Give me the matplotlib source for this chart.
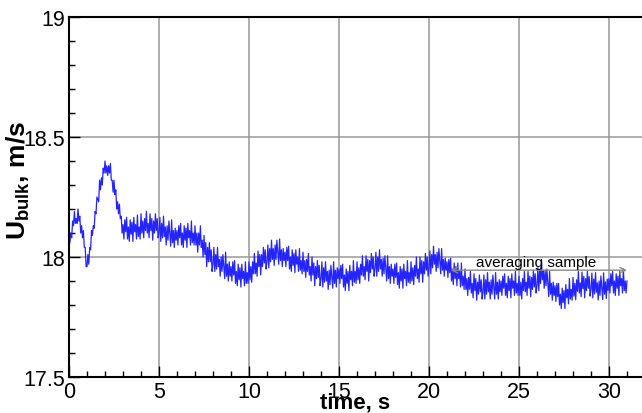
import numpy as np
import matplotlib
matplotlib.use("Agg")
import matplotlib.pyplot as plt

plt.rcParams["font.family"] = ["Liberation Sans", "DejaVu Sans"]
plt.rcParams["mathtext.fontset"] = "custom"
plt.rcParams["mathtext.rm"] = "Liberation Sans"
plt.rcParams["mathtext.bf"] = "Liberation Sans:bold"

# sampling interval of the bulk velocity record, s
dt = 0.05

# bulk velocity, m/s (one row per second)
u_bulk = [
    18.09, 18.06, 18.10, 18.08, 18.15, 18.13, 18.19, 18.14, 18.16, 18.14, 18.20, 18.15, 18.17, 18.10, 18.13, 18.08, 18.11, 18.04, 18.04, 17.96,
    17.96, 18.01, 17.97, 18.04, 18.03, 18.11, 18.09, 18.13, 18.12, 18.19, 18.18, 18.25, 18.24, 18.23, 18.32, 18.28, 18.33, 18.30, 18.37, 18.35,
    18.40, 18.35, 18.38, 18.34, 18.38, 18.35, 18.39, 18.32, 18.32, 18.27, 18.32, 18.26, 18.28, 18.20, 18.23, 18.18, 18.22, 18.16, 18.17, 18.10,
    18.135, 18.075, 18.155, 18.105, 18.165, 18.075, 18.125, 18.065, 18.155, 18.095, 18.145, 18.065, 18.165, 18.105, 18.135, 18.075, 18.175, 18.085, 18.125, 18.075,
    18.18, 18.10, 18.15, 18.08, 18.16, 18.11, 18.19, 18.10, 18.14, 18.08, 18.18, 18.11, 18.16, 18.07, 18.15, 18.10, 18.18, 18.11, 18.16, 18.08,
    18.10, 18.165, 18.065, 18.14, 18.08, 18.17, 18.085, 18.125, 18.05, 18.13, 18.07, 18.15, 18.095, 18.045, 18.155, 18.06, 18.11, 18.04, 18.12, 18.07,
    18.11, 18.05, 18.13, 18.08, 18.14, 18.05, 18.10, 18.04, 18.13, 18.07, 18.12, 18.04, 18.14, 18.08, 18.11, 18.05, 18.15, 18.06, 18.10, 18.05,
    18.13, 18.05, 18.10, 18.02, 18.10, 18.05, 18.13, 18.04, 18.07, 18.00, 18.09, 18.01, 18.06, 17.96, 18.04, 17.98, 18.06, 17.98, 18.03, 17.94,
    17.97, 18.04, 17.94, 18.01, 17.95, 18.04, 17.96, 17.99, 17.92, 18.00, 17.94, 18.01, 17.96, 17.91, 18.02, 17.92, 17.97, 17.90, 17.98, 17.92,
    17.96, 17.90, 17.98, 17.925, 17.985, 17.89, 17.94, 17.88, 17.97, 17.905, 17.955, 17.875, 17.97, 17.91, 17.94, 17.88, 17.98, 17.89, 17.935, 17.89,
    17.98, 17.905, 17.96, 17.895, 17.98, 17.93, 18.015, 17.93, 17.975, 17.92, 18.025, 17.96, 18.01, 17.925, 18.01, 17.96, 18.04, 17.975, 18.03, 17.95,
    17.98, 18.05, 17.955, 18.035, 17.98, 18.07, 17.99, 18.035, 17.965, 18.05, 17.99, 18.07, 18.02, 17.97, 18.075, 17.985, 18.03, 17.96, 18.035, 17.985,
    18.02, 17.96, 18.04, 17.985, 18.045, 17.95, 18.00, 17.94, 18.03, 17.965, 18.015, 17.935, 18.03, 17.97, 18.00, 17.94, 18.035, 17.945, 17.985, 17.93,
    18.02, 17.94, 17.985, 17.915, 17.99, 17.94, 18.015, 17.925, 17.96, 17.90, 18.00, 17.925, 17.975, 17.88, 17.96, 17.91, 17.985, 17.915, 17.965, 17.88,
    17.91, 17.98, 17.875, 17.955, 17.895, 17.98, 17.90, 17.94, 17.865, 17.945, 17.885, 17.965, 17.915, 17.87, 17.98, 17.89, 17.945, 17.875, 17.955, 17.91,
    17.95, 17.89, 17.965, 17.91, 17.97, 17.875, 17.925, 17.86, 17.95, 17.89, 17.94, 17.86, 17.965, 17.905, 17.94, 17.88, 17.985, 17.895, 17.94, 17.89,
    17.98, 17.905, 17.955, 17.89, 17.97, 17.925, 18.005, 17.92, 17.96, 17.905, 18.005, 17.94, 17.99, 17.90, 17.985, 17.935, 18.015, 17.95, 18.00, 17.92,
    17.95, 18.02, 17.92, 18.00, 17.94, 18.03, 17.95, 17.99, 17.92, 17.995, 17.93, 18.005, 17.95, 17.90, 18.005, 17.91, 17.96, 17.89, 17.97, 17.92,
    17.95, 17.89, 17.97, 17.915, 17.975, 17.885, 17.935, 17.87, 17.96, 17.90, 17.95, 17.87, 17.97, 17.91, 17.94, 17.88, 17.985, 17.895, 17.935, 17.89,
    17.98, 17.90, 17.955, 17.885, 17.965, 17.92, 18.00, 17.91, 17.95, 17.895, 18.00, 17.93, 17.985, 17.895, 17.98, 17.93, 18.015, 17.945, 18.00, 17.92,
    17.955, 18.025, 17.93, 18.01, 17.955, 18.045, 17.97, 18.01, 17.94, 18.02, 17.955, 18.035, 17.98, 17.93, 18.035, 17.945, 17.99, 17.92, 17.995, 17.945,
    17.98, 17.915, 17.99, 17.935, 17.995, 17.90, 17.95, 17.885, 17.975, 17.91, 17.96, 17.88, 17.975, 17.91, 17.94, 17.875, 17.975, 17.88, 17.92, 17.865,
    17.95, 17.865, 17.91, 17.84, 17.915, 17.865, 17.94, 17.85, 17.89, 17.83, 17.93, 17.86, 17.91, 17.82, 17.895, 17.845, 17.925, 17.855, 17.905, 17.825,
    17.855, 17.925, 17.825, 17.905, 17.845, 17.935, 17.855, 17.895, 17.825, 17.905, 17.845, 17.925, 17.875, 17.825, 17.935, 17.845, 17.895, 17.825, 17.905, 17.855,
    17.90, 17.84, 17.92, 17.87, 17.93, 17.84, 17.89, 17.83, 17.92, 17.86, 17.91, 17.83, 17.93, 17.87, 17.90, 17.84, 17.94, 17.85, 17.89, 17.84,
    17.92, 17.84, 17.895, 17.825, 17.91, 17.86, 17.94, 17.855, 17.895, 17.84, 17.94, 17.87, 17.92, 17.835, 17.915, 17.865, 17.945, 17.875, 17.93, 17.85,
    17.88, 17.955, 17.86, 17.945, 17.89, 17.98, 17.905, 17.945, 17.87, 17.945, 17.88, 17.95, 17.89, 17.835, 17.94, 17.845, 17.89, 17.82, 17.895, 17.84,
    17.88, 17.815, 17.89, 17.835, 17.89, 17.80, 17.845, 17.785, 17.87, 17.81, 17.86, 17.785, 17.885, 17.83, 17.865, 17.805, 17.91, 17.825, 17.865, 17.82,
    17.915, 17.837, 17.89, 17.822, 17.905, 17.857, 17.94, 17.85, 17.892, 17.835, 17.937, 17.868, 17.919, 17.83, 17.91, 17.86, 17.94, 17.87, 17.918, 17.837,
    17.865, 17.933, 17.83, 17.908, 17.846, 17.935, 17.853, 17.892, 17.821, 17.90, 17.84, 17.921, 17.872, 17.823, 17.934, 17.845, 17.896, 17.827, 17.908, 17.86,
    17.91, 17.85, 17.93, 17.88, 17.94, 17.85, 17.90, 17.84, 17.93, 17.87, 17.92, 17.84, 17.94, 17.88, 17.91, 17.85, 17.95, 17.86, 17.90, 17.85,
    17.90,
]
time = np.arange(len(u_bulk)) * dt

# averaging window shown by the arrow
avg_start, avg_end, avg_level = 21.2, 31.0, 17.945

x_ticks = [0, 5, 10, 15, 20, 25, 30]
y_ticks = [17.5, 18, 18.5, 19]
y_ticklabels = ["17.5", "18", "18.5", "19"]

fig = plt.figure(figsize=(6.42, 4.14), dpi=100)
ax = fig.add_axes([69 / 642, 36 / 414, 1 - 69 / 642, 360 / 414])

ax.plot(time, u_bulk, color="#2424ff", lw=0.9)

ax.annotate("", xy=(avg_end, avg_level), xytext=(avg_start, avg_level),
            arrowprops=dict(arrowstyle="<->", color="#8a8a8a", lw=1.0,
                            shrinkA=0, shrinkB=0))
ax.text(25.95, avg_level + 0.004, "averaging sample",
        ha="center", va="bottom", fontsize=11)

ax.set_xlim(0, (642 - 69) / 18)
ax.set_ylim(17.5, 19)
ax.set_xticks(x_ticks)
ax.set_xticks(np.arange(0, 32, 1), minor=True)
ax.set_yticks(y_ticks)
ax.set_yticklabels(y_ticklabels)
ax.set_yticks(np.arange(17.5, 19.0, 0.1), minor=True)

ax.grid(True, which="major", color="#999999", lw=1.1)
ax.set_axisbelow(True)
ax.tick_params(which="both", direction="in", labelsize=15.5, width=1.0)
ax.tick_params(which="major", length=8, pad=3)
ax.tick_params(which="minor", length=4)
ax.tick_params(axis="y", which="both", left=True, right=False)
ax.tick_params(axis="x", which="both", bottom=True, top=False)

for side in ("left", "bottom", "top"):
    ax.spines[side].set_linewidth(1.5)
ax.spines["right"].set_visible(False)

ax.set_xlabel("time, s", fontsize=16, fontweight="bold")
ax.xaxis.set_label_coords(0.5, -0.04)
ax.set_ylabel(r"$\mathbf{U_{bulk}}$, m/s", fontsize=19, fontweight="bold")
ax.yaxis.set_label_coords(-0.064, 0.55)

fig.savefig("out.png", dpi=100)
